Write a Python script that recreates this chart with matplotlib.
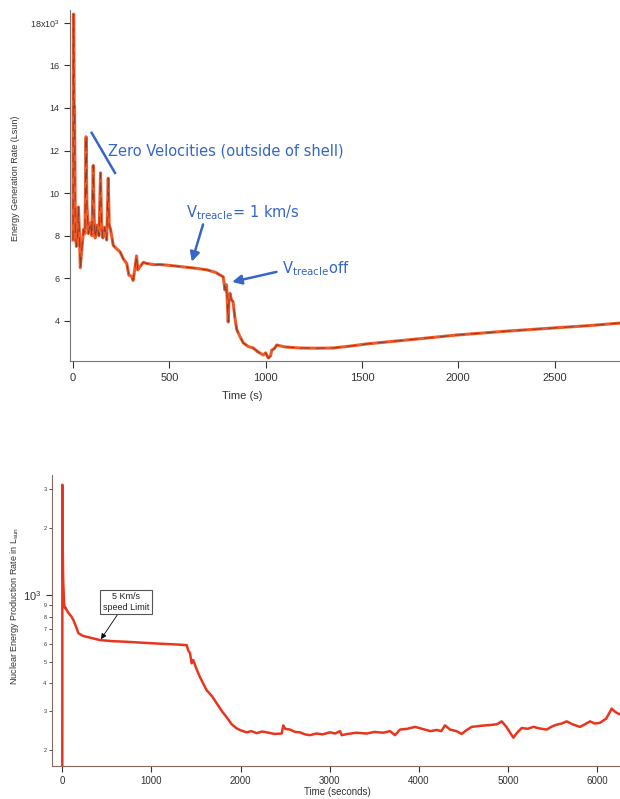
import matplotlib
matplotlib.use("Agg")
import matplotlib.pyplot as plt

plt.rcParams['mathtext.default'] = 'regular'

# run with treacle: time (s) and energy generation rate (Lsun)
t_top = [0, 2, 4, 6, 8, 12, 18, 24, 28, 33, 38, 45, 55, 62, 68, 72, 80, 90, 98, 105,
         110, 115, 125, 135, 143, 148, 155, 165, 175, 183, 188, 195, 209, 225, 244,
         262, 279, 290, 304, 312, 322, 330, 336, 348, 365, 382, 420, 452, 487, 530,
         590, 640, 695, 740, 780, 789, 797, 806, 810, 815, 822, 831, 840, 850, 865,
         884, 910, 936, 960, 988, 1000, 1014, 1025, 1032, 1045, 1058, 1100, 1178,
         1260, 1351, 1440, 1525, 1750, 1994, 2250, 2494, 2680, 2840]
e_top = [7800, 18400, 18400, 14050, 14050, 8100, 7500, 7900, 9350, 8200, 6500, 7300,
         8300, 8100, 12650, 9500, 8100, 8600, 8000, 11300, 8800, 7900, 8500, 8000,
         10950, 8600, 7900, 8400, 7800, 10700, 8500, 8300, 7550, 7400, 7250, 6900,
         6700, 6150, 6100, 5900, 6500, 7050, 6400, 6550, 6750, 6700, 6640, 6650,
         6620, 6580, 6520, 6470, 6400, 6280, 6070, 5450, 5700, 3950, 5100, 5300,
         5000, 4900, 4200, 3600, 3300, 2970, 2800, 2730, 2550, 2400, 2500, 2260,
         2350, 2630, 2700, 2870, 2780, 2730, 2720, 2730, 2820, 2920, 3120, 3340,
         3520, 3670, 3780, 3900]

# run with 5 km/s speed limit: time (s) and rate (Lsun)
t_bot = [0, 1, 4, 10, 20, 25, 30, 35, 60, 105, 124, 161, 180, 199, 230, 273, 330, 423,
         560, 722, 900, 1059, 1250, 1395, 1411, 1432, 1451, 1469, 1500, 1544, 1580,
         1619, 1680, 1731, 1790, 1843, 1900, 1956, 2000, 2068, 2120, 2180, 2240,
         2292, 2380, 2460, 2478, 2500, 2553, 2610, 2665, 2720, 2778, 2850, 2920,
         3002, 3060, 3114, 3133, 3200, 3300, 3414, 3500, 3600, 3675, 3731, 3787,
         3870, 3955, 4050, 4130, 4199, 4250, 4292, 4348, 4420, 4479, 4530, 4591,
         4700, 4800, 4872, 4928, 4980, 5058, 5100, 5152, 5220, 5283, 5350, 5432,
         5490, 5544, 5600, 5656, 5720, 5806, 5860, 5918, 5970, 6030, 6100, 6161,
         6200, 6237, 6260]
e_bot = [60, 3135, 1770, 1170, 920, 885, 874, 880, 840, 798, 772, 710, 674, 667, 655,
         649, 640, 627, 620, 616, 610, 605, 600, 595, 565, 548, 493, 509, 470, 427,
         400, 373, 350, 326, 300, 282, 262, 251, 246, 241, 244, 239, 243, 241, 237,
         238, 259, 250, 248, 242, 241, 236, 234, 238, 236, 241, 238, 244, 234, 237,
         240, 238, 242, 240, 244, 234, 248, 250, 255, 249, 244, 247, 244, 259, 248,
         244, 237, 246, 255, 258, 260, 262, 270, 255, 228, 240, 252, 250, 255, 251,
         248, 256, 261, 264, 270, 262, 255, 262, 270, 264, 266, 278, 308, 298, 292,
         290]

top_ticks = [4000, 6000, 8000, 10000, 12000, 14000, 16000, 18000]
top_labels = ['4', '6', '8', '10', '12', '14', '16', '18x10$^{3}$']
minor_vals = [200, 300, 400, 500, 600, 700, 800, 900, 2000, 3000]
minor_labels = ['2', '3', '4', '5', '6', '7', '8', '9', '2', '3']

fig = plt.figure(figsize=(6.2, 7.99), dpi=100)
plt.rcParams['font.family'] = ['Liberation Sans', 'DejaVu Sans']

blue = '#3566c8'
tick_col = '#333333'

# ---- upper panel ----
ax1 = fig.add_axes([0.1129, 0.5482, 0.8871, 0.4393])
ax1.plot(t_top, e_top, color='#f05a28', lw=2.2, solid_joinstyle='round')
ax1.plot(t_top, e_top, color='#8a3a28', lw=0.7, dashes=(10, 6))
ax1.set_xlim(-15.6, 2840)
ax1.set_ylim(2120, 18600)
ax1.set_yticks(top_ticks)
ax1.set_yticklabels(top_labels)
ax1.set_xticks([0, 500, 1000, 1500, 2000, 2500])
for s in ['top', 'right']:
    ax1.spines[s].set_visible(False)
for s in ['left', 'bottom']:
    ax1.spines[s].set_color('#777777')
ax1.tick_params(axis='y', labelsize=6.5, colors=tick_col, length=4, width=0.8)
ax1.tick_params(axis='x', labelsize=8, colors=tick_col, length=5, width=0.8)
ax1.set_xlabel('Time (s)', fontsize=8, color=tick_col, labelpad=2)
ax1.xaxis.set_label_coords(0.313, -0.085)
ax1.set_ylabel('Energy Generation Rate (Lsun)', fontsize=6.5, color=tick_col)
ax1.yaxis.set_label_coords(-0.09, 0.52)

ax1.plot([97, 218], [12830, 10950], color=blue, lw=1.8)
ax1.text(183, 12000, 'Zero Velocities (outside of shell)', color=blue,
         fontsize=10.5, family='DejaVu Sans', va='center')
ax1.annotate('V$_{treacle}$= 1 km/s', xy=(617, 6780), xytext=(585, 9100),
             color=blue, fontsize=10.5, family='DejaVu Sans', va='center',
             arrowprops=dict(arrowstyle='-|>', color=blue, lw=1.8,
                             mutation_scale=14, shrinkA=0, shrinkB=0,
                             relpos=(0.16, 0.0)))
ax1.annotate('V$_{treacle}$off', xy=(826, 5830), xytext=(1085, 6450),
             color=blue, fontsize=10.5, family='DejaVu Sans', va='center',
             arrowprops=dict(arrowstyle='-|>', color=blue, lw=1.8,
                             mutation_scale=14, shrinkA=2, shrinkB=0,
                             relpos=(0.0, 0.4)))

# ---- lower panel ----
ax2 = fig.add_axes([0.0839, 0.0413, 0.9161, 0.3642])
ax2.plot(t_bot, e_bot, color='#e8361e', lw=1.8, solid_joinstyle='round')
ax2.set_yscale('log')
ax2.set_xlim(-115, 6254)
ax2.set_ylim(170, 3470)
ax2.set_yticks([1000])
ax2.set_yticklabels(['10$^{3}$'])
ax2.set_yticks(minor_vals, minor=True)
ax2.set_yticklabels(minor_labels, minor=True)
ax2.set_xticks([0, 1000, 2000, 3000, 4000, 5000, 6000])
for s in ['top', 'right']:
    ax2.spines[s].set_visible(False)
for s in ['left', 'bottom']:
    ax2.spines[s].set_color('#8a6a60')
ax2.tick_params(axis='y', which='major', labelsize=8, colors=tick_col, length=4, width=0.8)
ax2.tick_params(axis='y', which='minor', labelsize=4, colors=tick_col, length=2.5, width=0.6, pad=1.5)
ax2.tick_params(axis='x', labelsize=7, colors=tick_col, length=4, width=0.8)
ax2.set_xlabel('Time (seconds)', fontsize=7, color=tick_col)
ax2.xaxis.set_label_coords(0.503, -0.072)
ax2.set_ylabel('Nuclear Energy Production Rate in L$_{sun}$', fontsize=6.5, color=tick_col)
ax2.yaxis.set_label_coords(-0.055, 0.55)

ax2.annotate('5 Km/s\nspeed Limit', xy=(434, 633), xytext=(714, 930),
             fontsize=6.5, ha='center', va='center', color='#222222',
             bbox=dict(boxstyle='square,pad=0.3', fc='white', ec='#555555', lw=0.8),
             arrowprops=dict(arrowstyle='-|>', color='black', lw=0.6,
                             mutation_scale=8, shrinkA=0, shrinkB=0))

fig.savefig('out.png', dpi=100, facecolor='white')
